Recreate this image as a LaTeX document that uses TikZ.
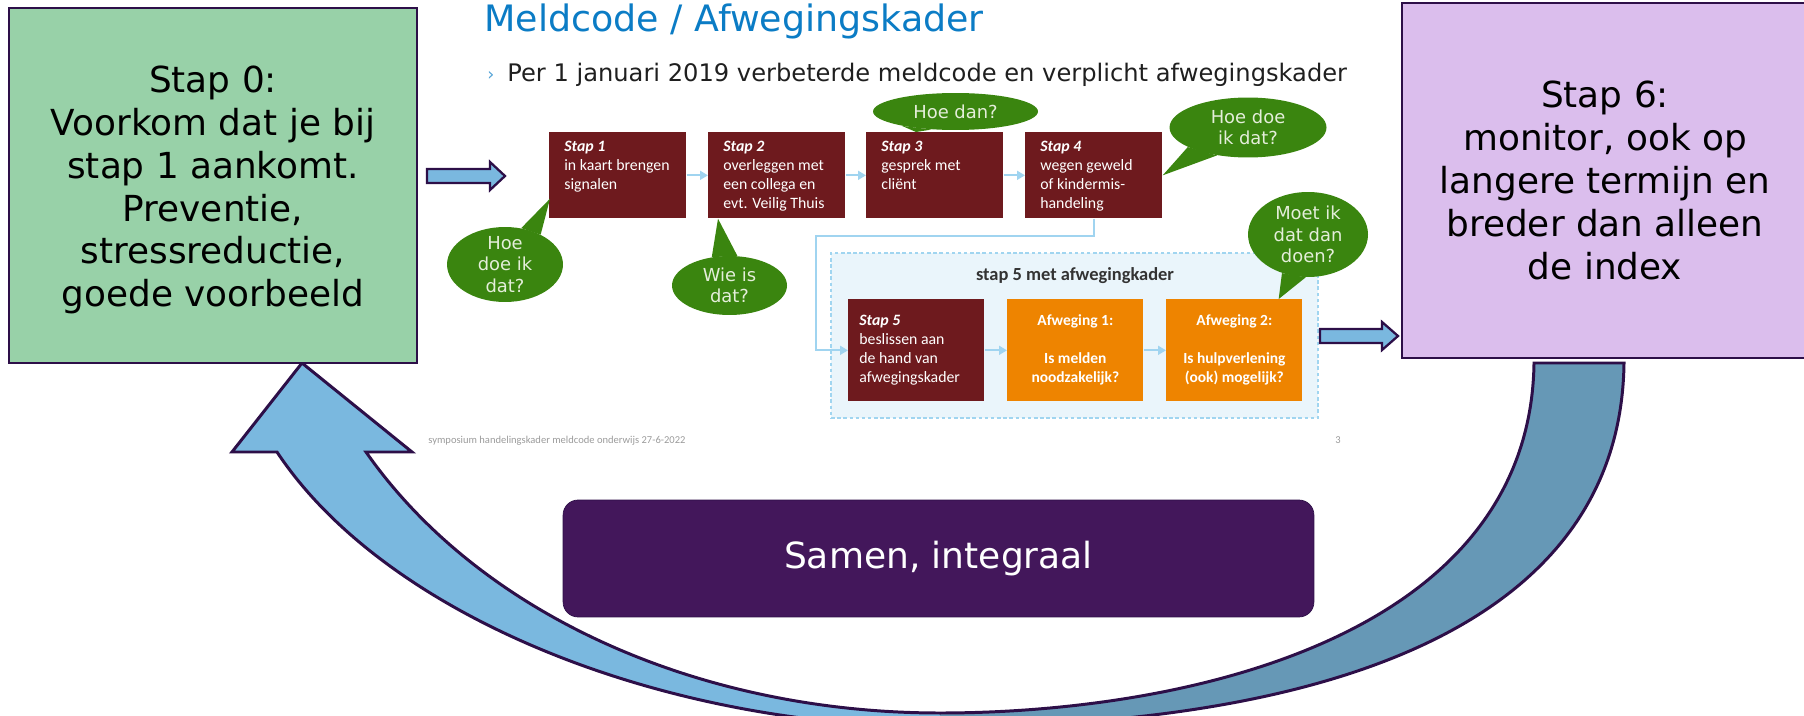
\documentclass[tikz,border=0pt]{standalone}
\usepackage{fontspec}
\setmainfont{DejaVu Sans}
\newfontfamily\slidefont{Carlito}
\usetikzlibrary{shapes.geometric,arrows.meta,calc}

\definecolor{groenvak}{RGB}{152,209,168}
\definecolor{paarsvak}{RGB}{219,190,237}
\definecolor{randpaars}{RGB}{45,15,72}
\definecolor{samenpaars}{RGB}{67,23,91}
\definecolor{stapbruin}{RGB}{110,26,30}
\definecolor{afworanje}{RGB}{238,132,0}
\definecolor{kaderblauw}{RGB}{234,245,251}
\definecolor{kaderrand}{RGB}{160,213,240}
\definecolor{lijnblauw}{RGB}{160,212,240}
\definecolor{bubbelgroen}{RGB}{58,133,15}
\definecolor{bubbeltekst}{RGB}{228,238,218}
\definecolor{lichtblauw}{RGB}{122,184,223}
\definecolor{staalblauw}{RGB}{102,152,182}
\definecolor{titelblauw}{RGB}{11,124,197}
\definecolor{voetgrijs}{RGB}{155,155,155}

\tikzstyle{hoofdblok}=[rectangle,
    draw=randpaars,
    line width=1.4pt,
    align=center,
    minimum width=8.16cm,
    minimum height=7.1cm,
    font=\fontsize{20.4}{24.4}\selectfont]
\tikzstyle{stepbox}=[rectangle,
    fill=stapbruin,
    text=white,
    anchor=north west,
    inner xsep=0.3cm,
    inner ysep=0.18cm,
    minimum width=2.74cm,
    minimum height=1.72cm,
    font=\slidefont\fontsize{9}{10.8}\selectfont]
\tikzstyle{afweging}=[rectangle,
    fill=afworanje,
    text=white,
    anchor=north west,
    align=center,
    minimum width=2.72cm,
    minimum height=2.04cm,
    font=\slidefont\bfseries\fontsize{8.8}{10.8}\selectfont]
\tikzstyle{kader}=[rectangle,
    draw=kaderrand,
    fill=kaderblauw,
    line width=0.8pt,
    dash pattern=on 2pt off 1.5pt,
    minimum width=9.74cm,
    minimum height=3.3cm]
\tikzstyle{bubble}=[ellipse,
    fill=bubbelgroen,
    text=bubbeltekst,
    inner xsep=0pt,
    inner ysep=-3pt,
    align=center,
    font=\fontsize{10.2}{12.2}\selectfont]
\tikzstyle{staart}=[fill=bubbelgroen]
\tikzstyle{flow}=[draw=lijnblauw, line width=1.1pt]
\tikzstyle{blokpijl}=[draw=randpaars, line width=1.3pt, fill=lichtblauw]
\tikzstyle{samenvak}=[rectangle,
    rounded corners=0.3cm,
    fill=samenpaars,
    draw=randpaars,
    text=white,
    minimum width=15.02cm,
    minimum height=2.34cm,
    font=\fontsize{20.5}{24}\selectfont]

\begin{document}
\begin{tikzpicture}[x=0.02cm, y=-0.02cm, >={Triangle[length=4.5pt,width=5pt]}]
                \useasboundingbox (0,0) rectangle (1804,716);
                \clip (0,0) rectangle (1804,716);
                % grote boog van stap 6 terug naar stap 0
                \path [save path=\boog] (302,363) -- (412,452) -- (366,452)
                    .. controls (480,615) and (700,713) .. (940,713)
                    .. controls (1180,713) and (1530,640) .. (1534,363)
                    -- (1624,363)
                    .. controls (1620,660) and (1250,727) .. (940,727)
                    .. controls (660,727) and (385,615) .. (277,452)
                    -- (232,452) -- cycle;
                \fill [lichtblauw, use path=\boog];
                \begin{scope}
                    \clip (940,0) rectangle (1804,716);
                    \fill [staalblauw, use path=\boog];
                \end{scope}
                \draw [draw=randpaars, line width=1.7pt, use path=\boog];

                \node (stap0) [hoofdblok, fill=groenvak] at (213,185.5)
                    {\rule{0pt}{1em}Stap 0:\\Voorkom dat je bij\\stap 1 aankomt.\\Preventie,\\stressreductie,\\goede voorbeeld};
                \node (stap6) [hoofdblok, fill=paarsvak, minimum width=8.12cm] at (1605,180.5)
                    {Stap 6:\\monitor, ook op\\langere termijn en\\breder dan alleen\\de index};
                \node (samen) [samenvak] at (938.5,558.5) {Samen, integraal};

                % de dia
                \node (titel) [anchor=base west, text=titelblauw, inner sep=0pt, font=\fontsize{20.7}{24}\selectfont] at (484,32)
                    {Meldcode / Afwegingskader};
                \node (chevron) [anchor=base west, text=titelblauw!70, font=\fontsize{10}{12}\selectfont, inner sep=0pt] at (487,81) {›};
                \node (ondertitel) [anchor=base west, text=black!88, font=\fontsize{13.75}{16}\selectfont, inner sep=0pt] at (507,82)
                    {Per 1 januari 2019 verbeterde meldcode en verplicht afwegingskader};

                \node (stap1) [stepbox] at (549,132)
                    {\begin{minipage}[c][1.36cm][t]{2.14cm}\textbf{\textit{Stap 1}}\\in kaart brengen\\signalen\end{minipage}};
                \node (stap2) [stepbox] at (708,132)
                    {\begin{minipage}[c][1.36cm][t]{2.14cm}\textbf{\textit{Stap 2}}\\overleggen met\\een collega en\\evt. Veilig Thuis\end{minipage}};
                \node (stap3) [stepbox] at (866,132)
                    {\begin{minipage}[c][1.36cm][t]{2.14cm}\textbf{\textit{Stap 3}}\\gesprek met\\cliënt\end{minipage}};
                \node (stap4) [stepbox] at (1025,132)
                    {\begin{minipage}[c][1.36cm][t]{2.14cm}\textbf{\textit{Stap 4}}\\wegen geweld\\of kindermis-\\handeling\end{minipage}};

                \node (kader) [kader] at (1074.5,335.5) {};
                \node (kadertitel) [anchor=base, text=black!80, font=\slidefont\bfseries\fontsize{10.5}{12}\selectfont] at (1075,280)
                    {stap 5 met afwegingkader};
                \node (stap5) [stepbox, minimum width=2.72cm, minimum height=2.04cm, inner xsep=0.22cm] at (848,299)
                    {\begin{minipage}{2.28cm}\textbf{\textit{Stap 5}}\\beslissen aan\\de hand van\\afwegingskader\end{minipage}};
                \node (afweging1) [afweging] at (1007,299) {Afweging 1:\\[10.8pt]Is melden\\noodzakelijk?};
                \node (afweging2) [afweging] at (1166,299) {Afweging 2:\\[10.8pt]Is hulpverlening\\(ook) mogelijk?};

                \coordinate (bocht) at (816,236);
                \draw [flow,->] (stap1) -- (stap2);
                \draw [flow,->] (stap2) -- (stap3);
                \draw [flow,->] (stap3) -- (stap4);
                \draw [flow,->] (stap4.south) |- (bocht) |- (stap5.west);
                \draw [flow,->] (stap5) -- (afweging1);
                \draw [flow,->] (afweging1) -- (afweging2);

                % vragen
                \node (hoedoe1) [bubble, minimum width=2.32cm, minimum height=1.5cm] at (505,264.5) {Hoe\\doe ik\\dat?};
                \node (wieis) [bubble, minimum width=2.3cm, minimum height=1.18cm] at (729.5,285.5) {Wie is\\dat?};
                \node (hoedan) [bubble, minimum width=3.3cm, minimum height=0.74cm] at (955.5,111.5) {Hoe dan?};
                \node (hoedoe2) [bubble, minimum width=3.14cm, minimum height=1.2cm] at (1248,127.5) {Hoe doe\\ik dat?};
                \node (moetik) [bubble, minimum width=2.4cm, minimum height=1.7cm] at (1308,234.5) {Moet ik\\dat dan\\doen?};
                \fill [staart] (hoedoe1.66) -- ($(stap1.south west)+(1,-20)$) -- (hoedoe1.40) -- cycle;
                \fill [staart] (wieis.122) -- ($(stap2.south west)+(10,0)$) -- (wieis.75) -- cycle;
                \fill [staart] (hoedan.195) -- ($(stap3.north west)+(50,0)$) -- (hoedan.217) -- cycle;
                \fill [staart] (hoedoe2.198) -- (stap4.east) -- (hoedoe2.222) -- cycle;
                \fill [staart] (moetik.236) -- ($(afweging2.north east)+(-24,0)$) -- (moetik.267) -- cycle;

                \node (voet) [anchor=base west, text=voetgrijs, font=\slidefont\fontsize{6}{7}\selectfont, inner sep=0pt] at (428,443)
                    {symposium handelingskader meldcode onderwijs 27-6-2022};
                \node (paginanr) [anchor=base west, text=voetgrijs, font=\slidefont\fontsize{6}{7}\selectfont, inner sep=0pt] at (1335,443) {3};

                % blokpijlen
                \draw [blokpijl] (427,169) -- (490,169) -- (490,162) -- (505,176) -- (490,190) -- (490,183) -- (427,183) -- cycle;
                \draw [blokpijl] (1320,329) -- (1382,329) -- (1382,322) -- (1398,336) -- (1382,350) -- (1382,343) -- (1320,343) -- cycle;
            \end{tikzpicture}
\end{document}
